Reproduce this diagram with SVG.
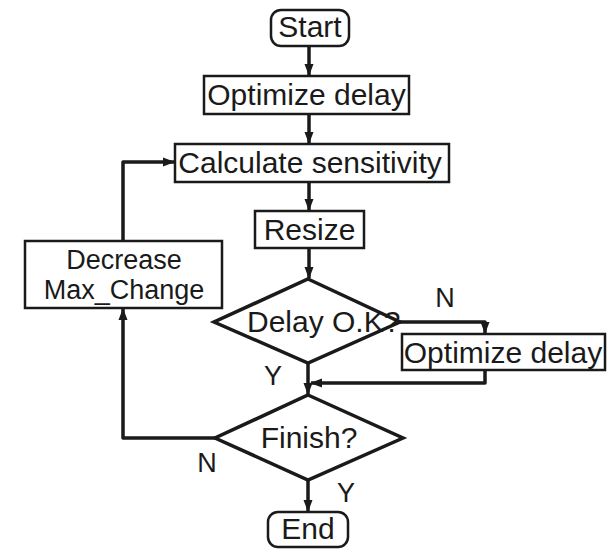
<svg xmlns="http://www.w3.org/2000/svg" width="608" height="549" viewBox="0 0 608 549">
<style>
.box{fill:#fff;stroke:#1a1a1a;stroke-width:2.5}
.dia{fill:#fff;stroke:#1a1a1a;stroke-width:3.5}
.t{font-family:"Liberation Sans",Arial,sans-serif;font-size:30px;fill:#1a1a1a;text-anchor:middle}
.t2{font-family:"Liberation Sans",Arial,sans-serif;font-size:27px;fill:#1a1a1a;text-anchor:middle}
.lbl{font-family:"Liberation Sans",Arial,sans-serif;font-size:27px;fill:#1a1a1a;text-anchor:middle}
.c{fill:none;stroke:#1a1a1a;stroke-width:3.5;stroke-linejoin:round}
</style>
<defs>
<marker id="ah" viewBox="0 0 12 10" refX="11" refY="5" markerWidth="12" markerHeight="10" markerUnits="userSpaceOnUse" orient="auto">
<path d="M0,0.5 L12,5 L0,9.5 z" fill="#1a1a1a"/>
</marker>
</defs>
<rect width="608" height="549" fill="#fff"/>
<g id="connectors">
<path class="c" d="M309,46 L309,75" marker-end="url(#ah)"/>
<path class="c" d="M309,114 L309,143" marker-end="url(#ah)"/>
<path class="c" d="M309,182 L309,210" marker-end="url(#ah)"/>
<path class="c" d="M309,248 L309,278" marker-end="url(#ah)"/>
<path class="c" d="M400,322 L485,322 L485,333" marker-end="url(#ah)"/>
<path class="c" d="M485,370 L485,383 L311,383" marker-end="url(#ah)"/>
<path class="c" d="M308,363 L308,394" marker-end="url(#ah)"/>
<path class="c" d="M215,438 L123,438 L123,309" marker-end="url(#ah)"/>
<path class="c" d="M123,241 L123,162 L174,162" marker-end="url(#ah)"/>
<path class="c" d="M308,480 L308,511" marker-end="url(#ah)"/>
</g>
<g id="start">
<rect class="box" x="271" y="10" width="78" height="36" rx="10"/>
<text class="t" x="310" y="37">Start</text>
</g>
<g id="optimize1">
<rect class="box" x="204" y="76" width="205" height="38"/>
<text class="t" x="306.5" y="105">Optimize delay</text>
</g>
<g id="calculate">
<rect class="box" x="175" y="144" width="274" height="38"/>
<text class="t" x="310" y="173">Calculate sensitivity</text>
</g>
<g id="resize">
<rect class="box" x="255" y="211" width="109" height="37"/>
<text class="t" x="309.5" y="240">Resize</text>
</g>
<g id="decrease">
<rect class="box" x="25" y="241" width="197" height="67"/>
<text class="t2" x="124" y="269">Decrease</text>
<text class="t2" x="124" y="299">Max_Change</text>
</g>
<g id="delayok">
<polygon class="dia" points="308,279 400,322 308,363 214,322"/>
<text class="t" x="247" y="332" style="text-anchor:start">Delay O.K?</text>
</g>
<g id="optimize2">
<rect class="box" x="402" y="334" width="203" height="36"/>
<text class="t" x="503" y="363">Optimize delay</text>
</g>
<g id="finish">
<polygon class="dia" points="308,395 403,438 308,480 215,438"/>
<text class="t" x="309" y="448">Finish?</text>
</g>
<g id="end">
<rect class="box" x="268" y="512" width="80" height="35" rx="10"/>
<text class="t" x="308" y="539">End</text>
</g>
<g id="labels">
<text class="lbl" x="445" y="307">N</text>
<text class="lbl" x="273" y="385">Y</text>
<text class="lbl" x="207" y="472">N</text>
<text class="lbl" x="346" y="502">Y</text>
</g>
</svg>
